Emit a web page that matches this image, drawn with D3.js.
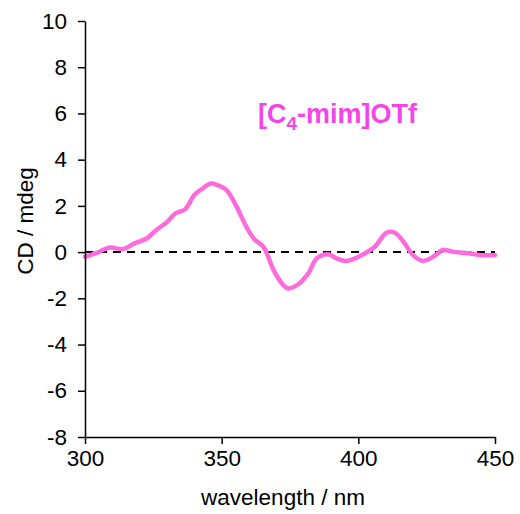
<!DOCTYPE html>
<html>
<head>
<meta charset="utf-8">
<script src="https://cdn.jsdelivr.net/npm/d3@7"></script>
<style>
  body { margin: 0; background: #fff; }
  svg text { font-family: "Liberation Sans", Arial, sans-serif; }
</style>
</head>
<body>
<div id="chart"></div>
<script>
// CD spectrum
const wavelength = [300, 305, 309, 314, 318, 322.6, 326, 330, 333, 336.6, 340, 343, 346, 349, 351.8, 355.5, 359, 362, 365.3, 369, 372, 374.4, 378, 381.7, 384.8, 389, 392, 395.7, 400.6, 406, 410.3, 413.4, 416.5, 420, 423.7, 427.4, 431, 434.8, 438.5, 441, 444.5, 450];
const cd = [-0.2, 0.0, 0.2, 0.13, 0.37, 0.59, 0.95, 1.3, 1.67, 1.85, 2.47, 2.75, 2.97, 2.88, 2.68, 1.96, 1.1, 0.55, 0.23, -0.78, -1.35, -1.57, -1.39, -0.92, -0.27, -0.09, -0.27, -0.38, -0.17, 0.23, 0.84, 0.84, 0.45, -0.13, -0.38, -0.2, 0.09, 0.01, -0.03, -0.06, -0.13, -0.13];
const xTicks = [300, 350, 400, 450];
const yTicks = [-8, -6, -4, -2, 0, 2, 4, 6, 8, 10];

const width = 520, height = 514;
const margin = { top: 21, right: 25, bottom: 77, left: 85 };
const FONT = 22.5;

const svg = d3.select("#chart").append("svg")
  .attr("width", width)
  .attr("height", height);

const x = d3.scaleLinear().domain([300, 450]).range([margin.left, width - margin.right]);
const y = d3.scaleLinear().domain([-8, 10]).range([height - margin.bottom, margin.top]);

// zero line
svg.append("line")
  .attr("x1", x(300)).attr("x2", x(450))
  .attr("y1", y(0)).attr("y2", y(0))
  .attr("stroke", "#000")
  .attr("stroke-width", 2)
  .attr("stroke-dasharray", "8,6");

// spectrum
const line = d3.line()
  .x((d, i) => x(wavelength[i]))
  .y(d => y(d))
  .curve(d3.curveCatmullRom);

svg.append("path")
  .datum(cd)
  .attr("d", line)
  .attr("fill", "none")
  .attr("stroke", "#ff6bdc")
  .attr("stroke-width", 4.5)
  .attr("stroke-linejoin", "round")
  .attr("stroke-linecap", "round");

// axes (plain hyphen for negatives, like the original)
const xAxis = svg.append("g")
  .attr("transform", `translate(0, ${y(-8)})`)
  .call(d3.axisBottom(x).tickValues(xTicks).tickFormat(d => String(d))
    .tickSize(7).tickSizeOuter(0).tickPadding(6));

const yAxis = svg.append("g")
  .attr("transform", `translate(${x(300)}, 0)`)
  .call(d3.axisLeft(y).tickValues(yTicks).tickFormat(d => String(d))
    .tickSize(7).tickSizeOuter(0).tickPadding(11));

[xAxis, yAxis].forEach(g => {
  g.select(".domain").attr("stroke-width", 1.5);
  g.selectAll(".tick line").attr("stroke-width", 1.5);
  g.selectAll("text").attr("font-size", FONT).attr("fill", "#000")
    .style("font-family", "'Liberation Sans', Arial, sans-serif");
});

svg.append("text")
  .attr("x", (x(300) + x(450)) / 2 - 7)
  .attr("y", 505)
  .attr("text-anchor", "middle")
  .attr("font-size", FONT)
  .text("wavelength / nm");

svg.append("text")
  .attr("transform", `translate(33, 221) rotate(-90)`)
  .attr("text-anchor", "middle")
  .attr("font-size", FONT)
  .text("CD / mdeg");

// sample label
const title = svg.append("text")
  .attr("x", 258)
  .attr("y", 123)
  .attr("font-size", 27)
  .attr("font-weight", "bold")
  .attr("fill", "#f545e6");
title.append("tspan").text("[C");
title.append("tspan").attr("font-size", 19).attr("dy", 7).text("4");
title.append("tspan").attr("dy", -7).text("-mim]OTf");
</script>
</body>
</html>
